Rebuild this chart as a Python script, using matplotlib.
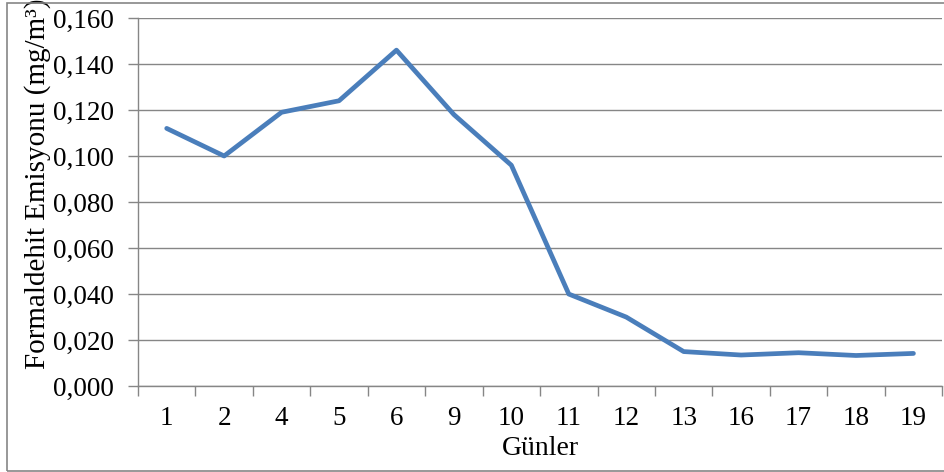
import numpy as np
import matplotlib.pyplot as plt
from matplotlib.patches import Rectangle

# Veriler
gunler = ['1', '2', '4', '5', '6', '9', '10', '11', '12', '13', '16', '17', '18', '19']
emisyon = [0.112, 0.100, 0.119, 0.124, 0.146, 0.118, 0.096, 0.040, 0.030,
           0.015, 0.0135, 0.0145, 0.0133, 0.0142]
y_ticks = [0.000, 0.020, 0.040, 0.060, 0.080, 0.100, 0.120, 0.140, 0.160]

plt.rcParams['font.family'] = ['Liberation Serif', 'DejaVu Serif']

fig = plt.figure(figsize=(9.45, 4.72), dpi=100)
ax = fig.add_axes([0.146, 0.182, 0.851, 0.780])

x = np.arange(len(gunler))
ax.plot(x, emisyon, color='#4A7EBB', linewidth=3.4, solid_capstyle='round',
        solid_joinstyle='round', zorder=3)

ax.set_xlim(-0.5, len(gunler) - 0.5)
ax.set_ylim(0, 0.16)
ax.set_yticks(y_ticks)
ax.set_yticklabels([f'{v:.3f}'.replace('.', ',') for v in y_ticks])
ax.set_xticks(x)
ax.set_xticklabels(gunler)
ax.set_xticks(np.arange(-0.5, len(gunler)), minor=True)
ax.tick_params(axis='x', which='major', length=0, pad=14, labelsize=19.5)
ax.tick_params(axis='x', which='minor', length=7, color='#868686', width=1)
ax.tick_params(axis='y', length=7, color='#868686', width=1, labelsize=19.5, pad=10)

ax.yaxis.grid(True, color='#868686', linewidth=1)
ax.set_axisbelow(True)
for s in ['top', 'right']:
    ax.spines[s].set_visible(False)
for s in ['left', 'bottom']:
    ax.spines[s].set_color('#868686')
    ax.spines[s].set_linewidth(1)

ax.set_xlabel('Günler', fontsize=20, labelpad=4)
ax.set_ylabel('Formaldehit Emisyonu (mg/m³)', fontsize=21, labelpad=2)
ax.yaxis.set_label_coords(-0.108, 0.55)

# dış çerçeve
fig.patches.append(Rectangle((0.007, 0.003), 0.999, 0.99, transform=fig.transFigure,
                             fill=False, edgecolor='#868686', linewidth=1.2))

fig.savefig('out.png', dpi=100)
